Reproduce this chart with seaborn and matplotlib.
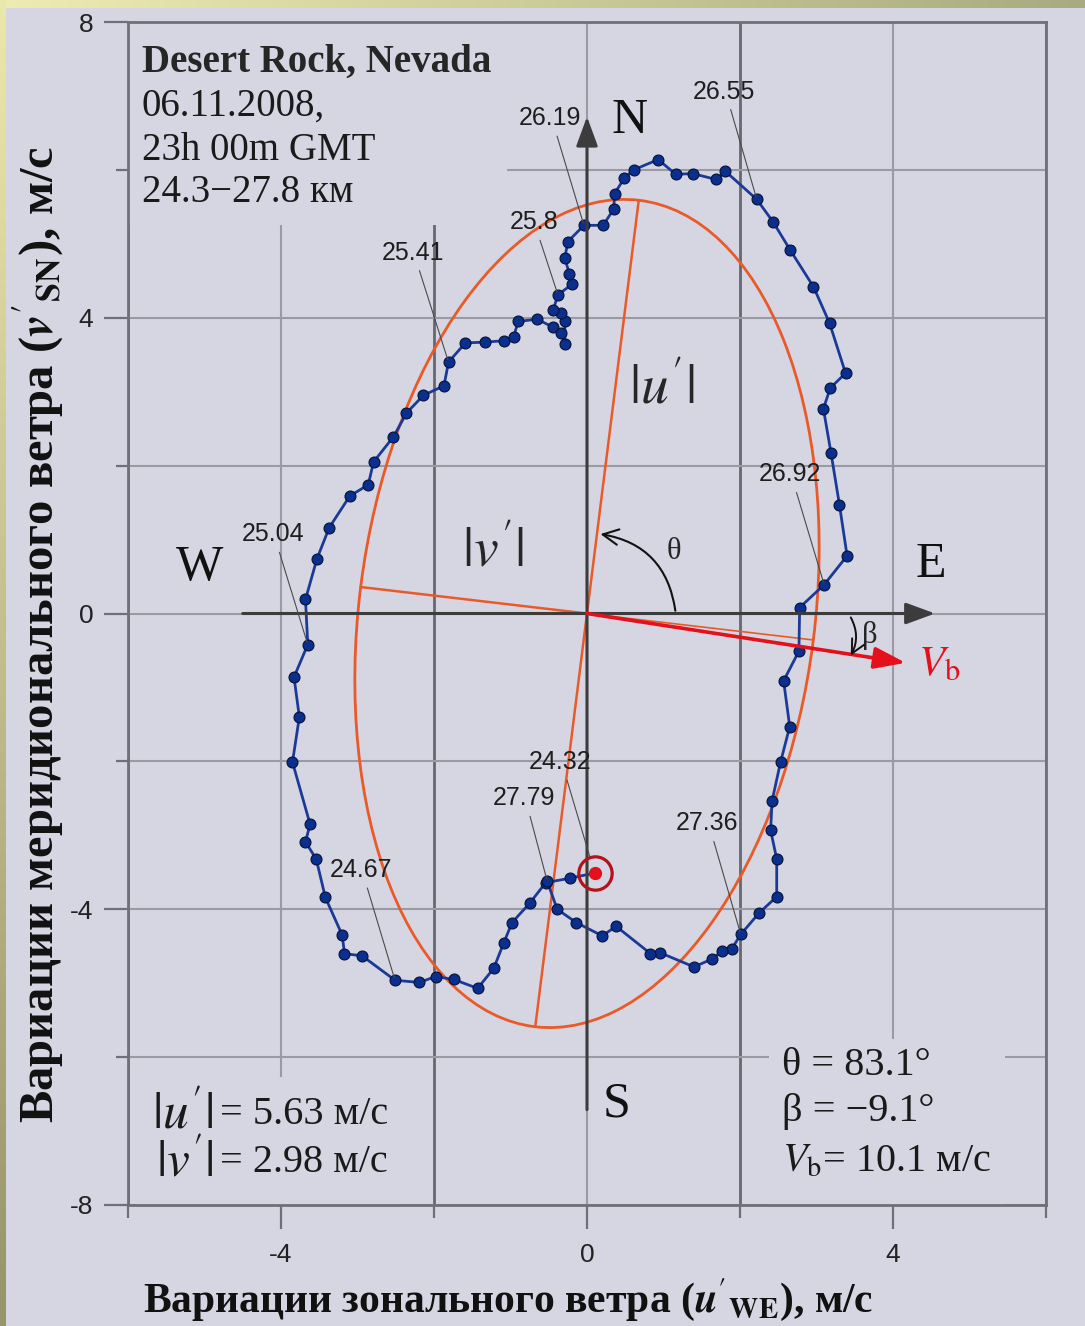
import numpy as np
import pandas as pd
import matplotlib
matplotlib.use("Agg")
import matplotlib.pyplot as plt
import seaborn as sns
from matplotlib.patches import Ellipse, Rectangle, FancyArrowPatch

# Wind perturbations along the hodograph (m/s): zonal u'_WE and meridional v'_SN
u_we = [0.10, -0.22, -0.54, -0.75, -0.98, -1.09, -1.22, -1.43, -1.74, -1.98,
        -2.19, -2.51, -2.94, -3.17, -3.20, -3.42, -3.54, -3.68, -3.62, -3.85,
        -3.76, -3.83, -3.65, -3.68, -3.53, -3.37, -3.10, -2.86, -2.79, -2.53,
        -2.36, -2.14, -1.87, -1.81, -1.59, -1.33, -1.08, -0.96, -0.90, -0.65,
        -0.44, -0.34, -0.29, -0.29, -0.34, -0.44, -0.38, -0.20, -0.23, -0.29,
        -0.25, -0.04, 0.21, 0.35, 0.36, 0.49, 0.61, 0.93, 1.16, 1.38,
        1.69, 1.81, 2.22, 2.43, 2.66, 2.96, 3.17, 3.38, 3.18, 3.09,
        3.19, 3.30, 3.40, 3.10, 2.78, 2.77, 2.57, 2.65, 2.53, 2.42,
        2.40, 2.48, 2.48, 2.25, 2.01, 1.89, 1.77, 1.64, 1.40, 0.96,
        0.83, 0.38, 0.20, -0.14, -0.39, -0.52]
v_sn = [-3.51, -3.58, -3.64, -3.92, -4.18, -4.46, -4.80, -5.07, -4.95, -4.91,
        -4.99, -4.96, -4.63, -4.60, -4.35, -3.84, -3.32, -3.09, -2.85, -2.01,
        -1.40, -0.86, -0.42, 0.19, 0.74, 1.16, 1.59, 1.74, 2.05, 2.39,
        2.71, 2.95, 3.08, 3.40, 3.66, 3.67, 3.69, 3.74, 3.95, 3.98,
        3.87, 3.80, 3.64, 3.95, 4.07, 4.11, 4.31, 4.45, 4.59, 4.81,
        5.03, 5.25, 5.25, 5.47, 5.68, 5.89, 6.00, 6.14, 5.94, 5.95,
        5.87, 5.98, 5.60, 5.30, 4.91, 4.42, 3.93, 3.25, 3.05, 2.77,
        2.17, 1.47, 0.78, 0.39, 0.08, -0.51, -0.91, -1.53, -2.01, -2.53,
        -2.93, -3.32, -3.83, -4.05, -4.34, -4.54, -4.56, -4.67, -4.78, -4.59,
        -4.60, -4.23, -4.36, -4.18, -4.00, -3.62]

# Altitude marks (km) and the sample of the profile each one belongs to
alt_labels = ["24.32", "24.67", "25.04", "25.41", "25.8",
              "26.19", "26.55", "26.92", "27.36", "27.79"]
alt_index = [0, 11, 22, 33, 46, 51, 62, 73, 84, 95]

# Fitted polarization ellipse
u_amp = 5.63      # |u'|, m/s
v_amp = 2.98      # |v'|, m/s
theta_deg = 83.1  # orientation of the major axis
beta_deg = -9.1   # direction of the background wind
vb_speed = 10.1   # background wind, m/s

x_ticks = [-4, 0, 4]
y_ticks = [-8, -4, 0, 4, 8]

# ---------------------------------------------------------------- style
BG = "#d5d6e2"
ORANGE = "#ea5a28"
NAVY = "#1b3a98"
DOT = "#0b2f8f"
RED = "#e4101c"
AXC = "#3c3c3c"
TXT = "#1a1a1a"
SERIF = ["Liberation Serif", "DejaVu Serif"]

sns.set_theme(style="whitegrid")
plt.rcParams.update({
    "font.family": ["Liberation Sans", "DejaVu Sans"],
    "mathtext.fontset": "stix",
    "axes.unicode_minus": False,
})

fig = plt.figure(figsize=(10.85, 13.26), dpi=100, facecolor=BG)

# slide frame: pale olive strips on the top and left edges
H, W = 1326, 1085
canvas = np.empty((H, W, 3))
canvas[:] = np.array([213, 214, 226]) / 255
gx = np.linspace(0, 1, W)[None, :, None]
canvas[:8] = (np.array([238, 236, 178]) * (1 - gx) + np.array([170, 170, 130]) * gx) / 255
gy = np.linspace(0, 1, H)[:, None, None]
left = (np.array([234, 232, 172]) * (1 - gy) + np.array([150, 148, 106]) * gy) / 255
canvas[:, :6] = np.broadcast_to(left, (H, 6, 3))
bg_ax = fig.add_axes([0, 0, 1, 1])
bg_ax.set_zorder(-10)
bg_ax.imshow(canvas, extent=[0, 1, 0, 1], aspect="auto", interpolation="nearest")
bg_ax.set_axis_off()

ax = fig.add_axes([128 / 1085, 121 / 1326, 918 / 1085, 1183 / 1326])
ax.set_facecolor(BG)
ax.set_xlim(-6, 6)
ax.set_ylim(-8, 8)

# ticks and grid
ax.set_xticks(x_ticks)
ax.set_yticks(y_ticks)
ax.set_xticks([x_ticks[0] - 2] + [t + 2 for t in x_ticks], minor=True)
ax.set_yticks([t + 2 for t in y_ticks[:-1]], minor=True)
ax.set_xticklabels([str(t) for t in x_ticks])
ax.set_yticklabels([str(t) for t in y_ticks])
ax.set_axisbelow(True)
ax.grid(which="major", color="#9a9aa4", lw=1.5)
ax.grid(which="minor", axis="y", color="#9a9aa4", lw=1.5)
ax.grid(which="minor", axis="x", color="#67676f", lw=2.0)
ax.tick_params(which="both", bottom=True, left=True, top=False, right=False,
               direction="out", color="#6f6f78", width=1.6,
               labelsize=19, labelcolor="#222222")
ax.tick_params(which="major", length=17)
ax.tick_params(which="minor", length=9)
ax.tick_params(axis="x", pad=10)
ax.tick_params(axis="y", pad=8)
for s in ax.spines.values():
    s.set_color("#6f6f78")
    s.set_linewidth(2.0)

# plain backgrounds behind the text blocks
for (x0, y0, w, h) in [(-6.0, 5.26, 4.95, 2.74), (-5.9, -8.0, 3.45, 1.73),
                       (2.38, -8.0, 3.08, 2.24)]:
    ax.add_patch(Rectangle((x0, y0), w, h, facecolor=BG, edgecolor="none", zorder=1))

# compass axes
arrow_axis = dict(arrowstyle="-|>,head_length=1.5,head_width=0.55", color=AXC,
                  lw=2.2, shrinkA=0, shrinkB=0)
ax.annotate("", xy=(4.55, 0), xytext=(-4.5, 0), arrowprops=arrow_axis, zorder=5)
ax.annotate("", xy=(0, 6.72), xytext=(0, -6.71), arrowprops=arrow_axis, zorder=5)
for letter, (lx, ly) in {"N": (0.56, 6.66), "W": (-5.07, 0.62),
                         "E": (4.49, 0.66), "S": (0.39, -6.64)}.items():
    ax.text(lx, ly, letter, family=SERIF, fontsize=36, ha="center", va="center",
            color="#111111", zorder=6)

# ellipse and its axes
th = np.deg2rad(theta_deg)
ax.add_patch(Ellipse((0, 0), width=2 * u_amp, height=2 * v_amp, angle=theta_deg,
                     fill=False, ec=ORANGE, lw=2.0, zorder=2))
ax.plot([-u_amp * np.cos(th), u_amp * np.cos(th)],
        [-u_amp * np.sin(th), u_amp * np.sin(th)], color=ORANGE, lw=1.8, zorder=2)
mx, my = v_amp * np.cos(th + np.pi / 2), v_amp * np.sin(th + np.pi / 2)
ax.plot([0, mx], [0, my], color=ORANGE, lw=1.8, zorder=2)
ax.plot([0, -mx], [0, -my], color=ORANGE, lw=1.2, zorder=2)

# background wind direction
bt = np.deg2rad(beta_deg)
vb_len = 4.22
ax.annotate("", xy=(vb_len * np.cos(bt), vb_len * np.sin(bt)), xytext=(0, 0),
            arrowprops=dict(arrowstyle="-|>,head_length=1.6,head_width=0.55",
                            color=RED, lw=2.6, shrinkA=0, shrinkB=0), zorder=5)
ax.text(4.33, -0.69, r"$V_{\mathrm{b}}$", color=RED, fontsize=31, ha="left",
        va="center", zorder=6)

# angle arcs
ax.add_patch(FancyArrowPatch((1.16, 0), (0.14, 1.08), connectionstyle="arc3,rad=0.38",
                             arrowstyle="->,head_length=0.8,head_width=0.4",
                             mutation_scale=14, color="#111111", lw=1.5, zorder=5))
ax.text(1.13, 0.84, "θ", family=SERIF, fontsize=22, ha="center", va="center")
ax.add_patch(FancyArrowPatch((3.43, -0.02), (3.43, -0.60), connectionstyle="arc3,rad=-0.3",
                             arrowstyle="->,head_length=0.7,head_width=0.35",
                             mutation_scale=14, color="#111111", lw=1.4, zorder=5))
ax.text(3.70, -0.30, "β", family=SERIF, fontsize=22, ha="center", va="center")

ax.text(0.98, 3.03, r"$|u'|$", fontsize=40, ha="center", va="center", zorder=6)
ax.text(-1.22, 0.83, r"$|v'|$", fontsize=40, ha="center", va="center", zorder=6)

# hodograph
df = pd.DataFrame({"u": u_we, "v": v_sn})
sns.lineplot(data=df, x="u", y="v", sort=False, estimator=None, ax=ax,
             color=NAVY, lw=2.0, marker="o", markersize=7.8, markerfacecolor=DOT,
             markeredgecolor="#08163d", markeredgewidth=0.9, zorder=4)
ax.plot(u_we[0], v_sn[0], "o", ms=24, mfc="none", mec="#b5121c", mew=2.3, zorder=6)
ax.plot(u_we[0], v_sn[0], "o", ms=8.5, color=RED, zorder=6)

# altitude annotations
label_pos = {"24.32": (-0.35, -2.01), "24.67": (-2.96, -3.47), "25.04": (-4.11, 1.07),
             "25.41": (-2.28, 4.88), "25.8": (-0.69, 5.29), "26.19": (-0.48, 6.70),
             "26.55": (1.79, 7.06), "26.92": (2.65, 1.88), "27.36": (1.57, -2.84),
             "27.79": (-0.83, -2.50)}
for lab, idx in zip(alt_labels, alt_index):
    ax.annotate(lab, xy=(u_we[idx], v_sn[idx]), xytext=label_pos[lab],
                ha="center", va="center", fontsize=18, color="#1e1e1e", zorder=6,
                arrowprops=dict(arrowstyle="-", color="#4a4a4a", lw=0.8,
                                shrinkA=2, shrinkB=12 if idx == 0 else 2,
                                relpos=(0.58, 0.0)))

# station and layer description
ax.text(-5.82, 7.32, "Desert Rock, Nevada", family=SERIF, fontsize=28,
        fontweight="bold", ha="left", va="baseline", zorder=6)
for txt, yb in [("06.11.2008,", 6.73), ("23h 00m GMT", 6.14), ("24.3\u221227.8 км", 5.56)]:
    ax.text(-5.82, yb, txt, family=SERIF, fontsize=28, ha="left", va="baseline",
            color=TXT, zorder=6)

# ellipse parameters
ax.text(-5.69, -6.78, r"$|u'|$", fontsize=37, ha="left", va="center", color=TXT, zorder=6)
ax.text(-4.80, -6.78, f"= {u_amp:.2f} м/с", family=SERIF, fontsize=29,
        ha="left", va="center", color=TXT, zorder=6)
ax.text(-5.63, -7.43, r"$|v'|$", fontsize=37, ha="left", va="center", color=TXT, zorder=6)
ax.text(-4.80, -7.43, f"= {v_amp:.2f} м/с", family=SERIF, fontsize=29,
        ha="left", va="center", color=TXT, zorder=6)
ax.text(2.55, -6.24, f"θ = {theta_deg:.1f}°", family=SERIF, fontsize=29,
        ha="left", va="baseline", color=TXT, zorder=6)
ax.text(2.55, -6.87, f"β = \u2212{abs(beta_deg):.1f}°", family=SERIF, fontsize=29,
        ha="left", va="baseline", color=TXT, zorder=6)
ax.text(2.55, -7.55, rf"$V_{{\mathrm{{b}}}}$= {vb_speed:.1f} м/с", family=SERIF,
        fontsize=29, ha="left", va="baseline", color=TXT, zorder=6)

# axis titles
ax.set_xlabel(r"Вариации зонального ветра ($\mathbfit{u}'_{\mathbf{WE}}$), м/с",
              family=SERIF, fontsize=30, fontweight="bold", color="#111111")
ax.xaxis.set_label_coords((508 - 128) / 918, (1205 - 1300) / 1183)
ax.xaxis.label.set_va("center")
ax.set_ylabel(r"Вариации меридионального ветра ($\mathbfit{v}'_{\mathbf{SN}}$), м/с",
              family=SERIF, fontsize=35, fontweight="bold", color="#111111")
ax.yaxis.set_label_coords((38 - 128) / 918, (1205 - 635) / 1183)
ax.yaxis.label.set_va("center")

fig.savefig("out.png", dpi=100, facecolor=BG)
